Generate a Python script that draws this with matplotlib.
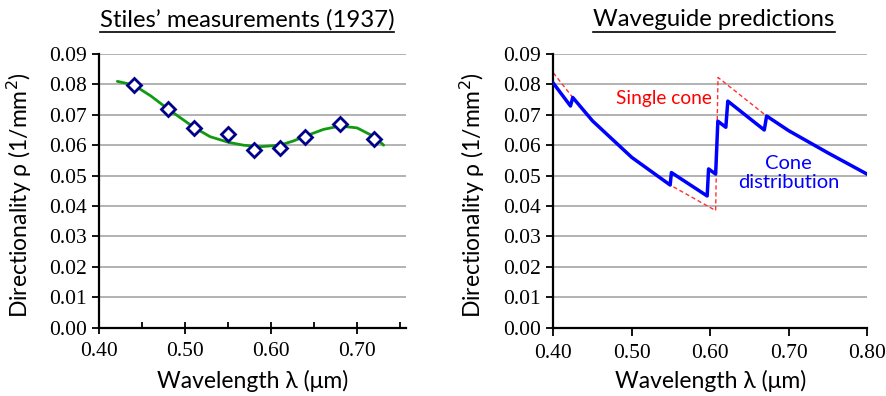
import matplotlib
matplotlib.use('Agg')
import matplotlib.pyplot as plt
from matplotlib.lines import Line2D
import numpy as np

# Stiles' measurements (1937)
stiles_wl = [0.44, 0.48, 0.51, 0.55, 0.58, 0.61, 0.64, 0.68, 0.72]
stiles_rho = [0.0797, 0.0719, 0.0657, 0.0636, 0.0585, 0.0591, 0.0627, 0.0671, 0.0621]

# trend line
trend_wl = [0.421, 0.44, 0.46, 0.48, 0.51, 0.529, 0.551, 0.568, 0.587, 0.61,
            0.626, 0.64, 0.661, 0.68, 0.70, 0.72, 0.731]
trend_rho = [0.0810, 0.0798, 0.0762, 0.0719, 0.0659, 0.0628, 0.0609, 0.0600, 0.0595, 0.0600,
             0.0614, 0.0630, 0.0652, 0.0663, 0.0657, 0.0628, 0.0600]

# Waveguide predictions: cone distribution
dist_wl = [0.400, 0.4219, 0.4248, 0.45, 0.50, 0.549, 0.5506, 0.5962, 0.598, 0.607,
           0.6098, 0.620, 0.6225, 0.669, 0.672, 0.70, 0.75, 0.80]
dist_rho = [0.0804, 0.0729, 0.0757, 0.0680, 0.0560, 0.0469, 0.0510, 0.0433, 0.0522, 0.0505,
            0.0679, 0.0659, 0.0745, 0.0650, 0.0696, 0.0648, 0.0575, 0.0505]

# single cone
single_wl = [0.400, 0.4248, 0.45, 0.50, 0.549, 0.607, 0.610, 0.672, 0.70, 0.75, 0.80]
single_rho = [0.0838, 0.0757, 0.0680, 0.0560, 0.0469, 0.0385, 0.0823, 0.0696, 0.0648, 0.0575, 0.0505]

sans = 'Lato'
serif = 'Liberation Serif'

fig = plt.figure(figsize=(8.87, 3.96), dpi=100)
ax1 = fig.add_axes([99.3 / 887, 68.4 / 396, 306.7 / 887, 273.6 / 396])
ax2 = fig.add_axes([553.3 / 887, 68.4 / 396, 313.7 / 887, 273.6 / 396])

for ax in (ax1, ax2):
    ax.set_ylim(0, 0.09)
    ax.set_yticks(np.arange(0, 0.091, 0.01))
    ax.yaxis.set_major_formatter(matplotlib.ticker.FormatStrFormatter('%.2f'))
    ax.xaxis.set_major_formatter(matplotlib.ticker.FormatStrFormatter('%.2f'))
    ax.grid(axis='y', color='#a6a6a6', linewidth=1.2)
    ax.set_axisbelow(True)
    for s in ('top', 'right'):
        ax.spines[s].set_visible(False)
    for s in ('left', 'bottom'):
        ax.spines[s].set_linewidth(1.6)
    ax.tick_params(axis='y', direction='out', length=5, width=1.3, labelsize=15.5, pad=4)
    ax.tick_params(axis='x', labelsize=15.5, width=1.3, pad=6)
    for lab in ax.get_xticklabels() + ax.get_yticklabels():
        lab.set_fontfamily(serif)
    ax.set_ylabel('Directionality ρ (1/mm$^2$)', fontsize=16.5, family=sans)
    ax.set_xlabel('Wavelength λ (μm)', fontsize=16.5, family=sans)
    ax.xaxis.set_label_coords(0.5, -0.155)

# left panel
ax1.set_xlim(0.40, 0.757)
ax1.set_xticks([0.40, 0.50, 0.60, 0.70])
ax1.set_xticks([0.45, 0.55, 0.65, 0.75], minor=True)
ax1.tick_params(axis='x', which='major', direction='inout', length=9)
ax1.tick_params(axis='x', which='minor', direction='in', length=4, width=1.3)
ax1.plot(trend_wl, trend_rho, color='#119911', linewidth=2, solid_capstyle='round', zorder=2)
ax1.plot(stiles_wl, stiles_rho, linestyle='none', marker='D', markersize=7.5,
         markerfacecolor='white', markeredgecolor='#00008b', markeredgewidth=2, zorder=3)
ax1.yaxis.set_label_coords(-0.213, 0.485)

# right panel
ax2.set_xlim(0.40, 0.80)
ax2.set_xticks([0.40, 0.50, 0.60, 0.70, 0.80])
ax2.tick_params(axis='x', which='major', direction='out', length=6)
ax2.plot(single_wl, single_rho, color='#ff3030', linewidth=1, linestyle=(0, (3, 2)), zorder=2)
ax2.plot(dist_wl, dist_rho, color='#0000ff', linewidth=2.5, zorder=3)
ax2.text(0.541, 0.0754, 'Single cone', color='#ff0000', fontsize=13.8, family=sans,
         ha='center', va='center')
ax2.text(0.70, 0.0508, 'Cone\ndistribution', color='#0000ff', fontsize=14.5, family=sans,
         ha='center', va='center', linespacing=1.1)
ax2.yaxis.set_label_coords(-0.211, 0.485)
for lab in ax2.get_xticklabels():
    lab.set_clip_on(False)

# titles, underlined
titles = [("Stiles’ measurements (1937)", 247 / 887), ("Waveguide predictions", 714 / 887)]
fig.canvas.draw()
renderer = fig.canvas.get_renderer()
for txt, xc in titles:
    t = fig.text(xc, 1 - 20 / 396, txt, fontsize=17.2, family=sans, ha='center', va='center')
    bb = t.get_window_extent(renderer=renderer)
    y_line = (bb.y0 - 1) / fig.bbox.height
    fig.add_artist(Line2D([bb.x0 / fig.bbox.width, bb.x1 / fig.bbox.width], [y_line, y_line],
                          color='black', linewidth=1.2, transform=fig.transFigure))

fig.savefig('out.png', dpi=100)
